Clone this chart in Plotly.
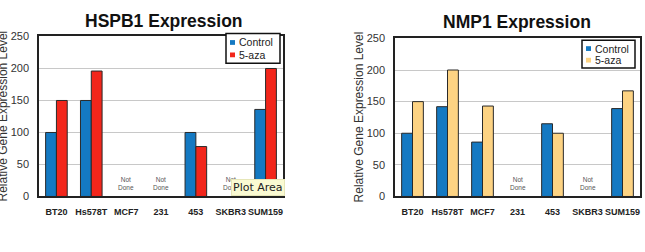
import plotly.graph_objects as go

categories = ["BT20", "Hs578T", "MCF7", "231", "453", "SKBR3", "SUM159"]
hspb1_control = [100, 150, None, None, 100, None, 136]
hspb1_aza = [150, 196, None, None, 78, None, 200]
nmp1_control = [100, 142, 86, None, 115, None, 139]
nmp1_aza = [150, 200, 143, None, 100, None, 167]
series_names = ["Control", "5-aza"]
y_ticks = [0, 50, 100, 150, 200, 250]

W, H = 645, 252
BLUE = "#1479c2"
RED = "#f2261b"
YEL = "#fdd383"
FONT = "Liberation Sans, Arial, sans-serif"

def px(x):
    return x / W

def py(y):
    return 1 - y / H

fig = go.Figure()
panels = [
    ("x", "y", hspb1_control, hspb1_aza, RED),
    ("x2", "y2", nmp1_control, nmp1_aza, YEL),
]
for xa, ya, c, a, col in panels:
    fig.add_trace(go.Bar(x=categories, y=c, name=series_names[0], xaxis=xa, yaxis=ya,
                         marker=dict(color=BLUE, line=dict(color="#2a2a2a", width=1)),
                         showlegend=False))
    fig.add_trace(go.Bar(x=categories, y=a, name=series_names[1], xaxis=xa, yaxis=ya,
                         marker=dict(color=col, line=dict(color="#2a2a2a", width=1)),
                         showlegend=False))

axis_common = dict(showline=True, linecolor="#222", linewidth=1.5, mirror=True,
                   ticks="", fixedrange=True)
xcommon = dict(axis_common, type="category", categoryorder="array", categoryarray=categories,
               range=[-0.5, len(categories) - 0.5], ticklabelstandoff=6,
               tickfont=dict(family=FONT, size=9, color="#222", weight="bold"),
               showgrid=False)
ycommon = dict(axis_common, range=[0, 250], tickvals=y_ticks, showgrid=True,
               gridcolor="#c8c8c8", gridwidth=1, ticklabelstandoff=6,
               tickfont=dict(family=FONT, size=11, color="#333"))

fig.update_layout(
    width=W, height=H, margin=dict(l=0, r=0, t=0, b=0),
    paper_bgcolor="white", plot_bgcolor="white",
    barmode="group", bargap=0.38, bargroupgap=0,
    xaxis=dict(xcommon, domain=[px(39), px(283)], anchor="y"),
    yaxis=dict(ycommon, domain=[py(200), py(32)], anchor="x"),
    xaxis2=dict(xcommon, domain=[px(395), px(640)], anchor="y2"),
    yaxis2=dict(ycommon, domain=[py(200), py(34)], anchor="x2"),
    showlegend=False,
)

ann = []
shapes = []

def text(t, x, y, size, color="#222", xanchor="center", **kw):
    ann.append(dict(text=t, x=px(x), y=py(y), xref="paper", yref="paper",
                    xanchor=xanchor, yanchor="middle", showarrow=False,
                    font=dict(family=kw.pop("family", FONT), size=size, color=color), **kw))

text("<b>HSPB1 Expression</b>", 164, 16, 17.5, "#111")
text("<b>NMP1 Expression</b>", 517, 17, 17.5, "#111")
text("Relative Gene Expression Level", 3, 116, 12, "#333", textangle=-90)
text("Relative Gene Expression Level", 359, 117, 12, "#333", textangle=-90)

# legends
for (x0, y0, x1, y1, col2) in ((226, 29, 280, 60, RED), (582, 36, 635, 65, YEL)):
    shapes.append(dict(type="rect", xref="paper", yref="paper", x0=px(x0), x1=px(x1),
                       y0=py(y0), y1=py(y1), line=dict(color="#111", width=1.5),
                       fillcolor="white", layer="above"))
    mid1 = y0 + (y1 - y0) * 0.3
    mid2 = y0 + (y1 - y0) * 0.72
    for mid, colr, name in ((mid1, BLUE, series_names[0]), (mid2, col2, series_names[1])):
        shapes.append(dict(type="rect", xref="paper", yref="paper", x0=px(x0 + 4), x1=px(x0 + 9),
                           y0=py(mid - 2.5), y1=py(mid + 2.5), line=dict(width=0),
                           fillcolor=colr, layer="above"))
        text(name, x0 + 11, mid, 10.5, "#222", xanchor="left")

for xa, ya, c, a in (("x", "y", hspb1_control, hspb1_aza), ("x2", "y2", nmp1_control, nmp1_aza)):
    for i, (cv, av) in enumerate(zip(c, a)):
        if cv is None and av is None:
            ann.append(dict(text="Not<br>Done", x=i, y=20, xref=xa, yref=ya, showarrow=False,
                            xanchor="center", yanchor="middle",
                            font=dict(family=FONT, size=6.5, color="#555")))

text("Plot Area", 258, 191, 11, "#222", family="DejaVu Sans",
     bgcolor="#fafad2", bordercolor="#e6e6b8", borderwidth=1, borderpad=1)

fig.update_layout(annotations=ann, shapes=shapes)
fig.write_html("out.html")
